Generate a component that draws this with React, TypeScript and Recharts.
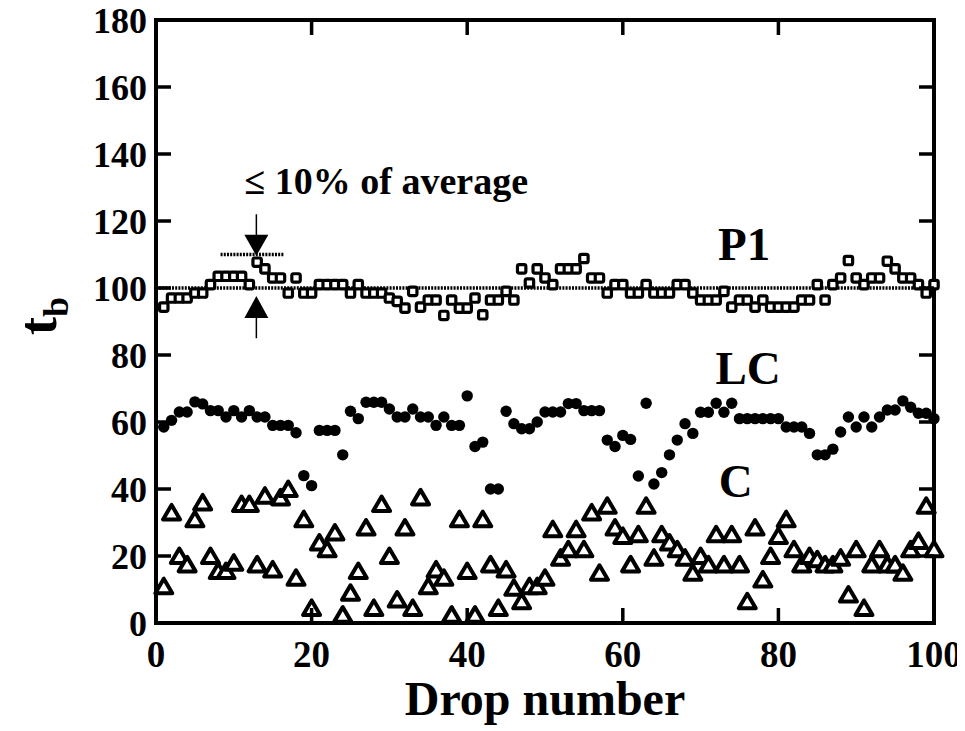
import React from 'react';
import { ScatterChart, Scatter, XAxis, YAxis, ReferenceLine, ReferenceArea, ReferenceDot } from 'recharts';

// drop index (x axis)
const drops = [
  1, 2, 3, 4, 5, 6, 7, 8, 9, 10,
  11, 12, 13, 14, 15, 16, 17, 18, 19, 20,
  21, 22, 23, 24, 25, 26, 27, 28, 29, 30,
  31, 32, 33, 34, 35, 36, 37, 38, 39, 40,
  41, 42, 43, 44, 45, 46, 47, 48, 49, 50,
  51, 52, 53, 54, 55, 56, 57, 58, 59, 60,
  61, 62, 63, 64, 65, 66, 67, 68, 69, 70,
  71, 72, 73, 74, 75, 76, 77, 78, 79, 80,
  81, 82, 83, 84, 85, 86, 87, 88, 89, 90,
  91, 92, 93, 94, 95, 96, 97, 98, 99, 100,
];

// t_b values
const p1Values = [
  94.3, 97, 97, 97, 98.5, 98.5, 101, 103.5, 103.5, 103.5,
  103.5, 101, 107.7, 105.7, 103, 103, 98.5, 103, 98.5, 98.5,
  101, 101, 101, 101, 98.5, 101, 98.5, 98.5, 98.5, 97,
  96, 94, 99, 94.3, 96.4, 96.4, 91.8, 96.4, 94, 94,
  97, 92, 96.4, 96.4, 99, 96.4, 105.7, 101.5, 105.7, 103,
  101, 105.7, 105.7, 105.7, 108.8, 103, 103, 98.5, 101, 101,
  98.5, 98.5, 101, 98.5, 98.5, 98.5, 101, 101, 98.5, 96.4,
  96.4, 96.4, 99, 94.3, 96.4, 96.4, 94.3, 96.4, 94.3, 94.3,
  94.3, 94.3, 96.4, 96.4, 101, 96.4, 101, 103, 108.2, 103,
  101, 103, 103, 108, 105.7, 103, 103, 101, 98.5, 101,
];

const lcValues = [
  58.5, 60.5, 63, 63, 66, 65.4, 63.4, 63.4, 61.5, 63.4,
  61.5, 63.4, 61.5, 61.5, 59, 59, 59, 56.8, 44, 41,
  57.5, 57.5, 57.5, 50.2, 63.2, 61, 65.9, 65.9, 65.9, 63.9,
  61.5, 61.5, 63.9, 61.5, 61.5, 59, 61.5, 59, 59, 67.8,
  52.7, 54, 40, 40, 63.2, 59.5, 58, 58, 60, 63,
  63, 63, 65.5, 65.5, 63.4, 63.4, 63.4, 54.6, 52.7, 56,
  54.8, 43.9, 65.6, 41.5, 44.9, 50.2, 54.6, 59.5, 56.6, 62.9,
  62.9, 65.6, 62.9, 65.6, 61, 61, 61, 61, 61, 61,
  58.5, 58.5, 58.5, 56.6, 50.2, 50.2, 51.9, 57, 61.5, 58.5,
  61.5, 58.5, 61.5, 63.6, 63.6, 66.3, 64.4, 62.6, 62.6, 61,
];

const cValues = [
  11, 33, 20, 17.5, 31, 36, 20, 15.5, 15.5, 18,
  35.5, 35.5, 17.5, 38, 16, 37.5, 40, 13.5, 31, 4.5,
  24, 22, 27, 2.5, 9, 15.5, 28.5, 4.5, 35.5, 20,
  7, 28.5, 4.5, 37.5, 11, 16, 13.5, 2.5, 31, 15.5,
  2.5, 31, 17.5, 4.5, 16, 10.5, 6.5, 11, 11, 13.5,
  28, 19.5, 22, 28, 22, 33, 15, 35, 28.5, 26,
  17.5, 26.5, 35, 19.5, 26.5, 24, 22, 19.5, 15, 20,
  17.5, 26.5, 17.5, 26.5, 17.5, 6.5, 28.5, 13, 20, 26,
  31, 22, 17.5, 20, 19, 17.5, 17.5, 19.5, 8.5, 22,
  4.5, 17.5, 22, 17.5, 17.5, 15, 22, 24.5, 35, 22,
];

const xTicks = [0, 20, 40, 60, 80, 100];
const yTicks = [0, 20, 40, 60, 80, 100, 120, 140, 160, 180];

const FONT = '"Liberation Serif", "Times New Roman", serif';
const PLOT = { left: 156, right: 934, top: 20, bottom: 623 };
const TICK_LEN = 15;

const p1Data = drops.map((x, i) => ({ x, y: p1Values[i] }));
const lcData = drops.map((x, i) => ({ x, y: lcValues[i] }));
const cData = drops.map((x, i) => ({ x, y: cValues[i] }));

const SquareMarker = (props: any) => {
  const { cx, cy } = props;
  if (cx == null || cy == null) return null;
  return <rect x={cx - 4.2} y={cy - 4.2} width={8.4} height={8.4} rx={1.8} fill="#fff" stroke="#000" strokeWidth={3.2} />;
};

const BlobMarker = (props: any) => {
  const { cx, cy } = props;
  if (cx == null || cy == null) return null;
  return <circle cx={cx} cy={cy} r={5.7} fill="#000" />;
};

const TriangleMarker = (props: any) => {
  const { cx, cy } = props;
  if (cx == null || cy == null) return null;
  const pts = `${cx},${cy - 7.5} ${cx - 8.5},${cy + 7} ${cx + 8.5},${cy + 7}`;
  return <polygon points={pts} fill="#fff" stroke="#000" strokeWidth={4} strokeLinejoin="round" />;
};

const YTick = (props: any) => {
  const { y, payload } = props;
  const v = payload.value;
  const inner = v !== 0 && v !== 180;
  return (
    <g>
      <text x={PLOT.left - 9} y={y + 12.5} textAnchor="end" fontFamily={FONT} fontWeight="bold" fontSize={36} fill="#000">
        {v}
      </text>
      {inner && <line x1={PLOT.left} x2={PLOT.left + TICK_LEN} y1={y} y2={y} stroke="#000" strokeWidth={3.5} />}
      {inner && <line x1={PLOT.right - TICK_LEN} x2={PLOT.right} y1={y} y2={y} stroke="#000" strokeWidth={3.5} />}
    </g>
  );
};

const XTick = (props: any) => {
  const { x, payload } = props;
  const v = payload.value;
  const inner = v !== 0 && v !== 100;
  return (
    <g>
      <text x={x} y={PLOT.bottom + 44} textAnchor="middle" fontFamily={FONT} fontWeight="bold" fontSize={37} fill="#000">
        {v}
      </text>
      {inner && <line x1={x} x2={x} y1={PLOT.bottom} y2={PLOT.bottom - TICK_LEN} stroke="#000" strokeWidth={3.5} />}
      {inner && <line x1={x} x2={x} y1={PLOT.top} y2={PLOT.top + TICK_LEN} stroke="#000" strokeWidth={3.5} />}
    </g>
  );
};

const textShape = (text: string, size: number, weight: string) => (props: any) => {
  const { cx, cy } = props;
  return (
    <text x={cx} y={cy} textAnchor="middle" fontFamily={FONT} fontWeight={weight} fontSize={size} fill="#000">
      {text}
    </text>
  );
};

const downHead = (props: any) => {
  const { cx, cy } = props;
  return <polygon points={`${cx - 12},${cy - 21} ${cx + 12},${cy - 21} ${cx},${cy}`} fill="#000" />;
};

const upHead = (props: any) => {
  const { cx, cy } = props;
  return <polygon points={`${cx - 12},${cy + 22} ${cx + 12},${cy + 22} ${cx},${cy}`} fill="#000" />;
};

const App: React.FC = () => {
  return (
    <div style={{ margin: '-8px 0 0 -8px', width: 965, height: 731 }}>
      <ScatterChart
        width={965}
        height={731}
        margin={{ top: 20, right: 31, bottom: 8, left: 8 }}
        style={{ fontFamily: FONT, background: '#fff' }}
      >
        <XAxis
          type="number"
          dataKey="x"
          domain={[0, 100]}
          ticks={xTicks}
          height={100}
          axisLine={false}
          tickLine={false}
          tick={<XTick />}
          interval={0}
        />
        <YAxis
          type="number"
          dataKey="y"
          domain={[0, 180]}
          ticks={yTicks}
          width={148}
          axisLine={false}
          tickLine={false}
          tick={<YTick />}
          interval={0}
        />
        <ReferenceLine y={100} stroke="#000" strokeWidth={3.5} strokeDasharray="2 1.2" />
        <ReferenceLine segment={[{ x: 8.3, y: 110 }, { x: 16.4, y: 110 }]} stroke="#000" strokeWidth={3.5} strokeDasharray="2 1.2" />
        <ReferenceLine segment={[{ x: 12.9, y: 122 }, { x: 12.9, y: 114 }]} stroke="#000" strokeWidth={1.5} />
        <ReferenceLine segment={[{ x: 12.9, y: 85 }, { x: 12.9, y: 92 }]} stroke="#000" strokeWidth={1.5} />
        <ReferenceDot x={12.9} y={109.6} shape={downHead} ifOverflow="visible" />
        <ReferenceDot x={12.9} y={97.6} shape={upHead} ifOverflow="visible" />

        <Scatter data={p1Data} shape={SquareMarker} isAnimationActive={false} />
        <Scatter data={lcData} shape={BlobMarker} isAnimationActive={false} />
        <Scatter data={cData} shape={TriangleMarker} isAnimationActive={false} />

        <ReferenceDot x={29.6} y={128} shape={textShape('\u2264 10% of average', 38, 'bold')} ifOverflow="visible" />
        <ReferenceDot x={75.6} y={108.5} shape={textShape('P1', 47, 'bold')} ifOverflow="visible" />
        <ReferenceDot x={76.1} y={71.2} shape={textShape('LC', 47, 'bold')} ifOverflow="visible" />
        <ReferenceDot x={74.5} y={37.5} shape={textShape('C', 47, 'bold')} ifOverflow="visible" />

        <ReferenceArea x1={0} x2={100} y1={0} y2={180} fill="none" stroke="#000" strokeWidth={4} ifOverflow="visible" />

        <text x={545} y={715} textAnchor="middle" fontFamily={FONT} fontWeight="bold" fontSize={48} fill="#000">
          Drop number
        </text>
        <text transform="translate(56,316) rotate(-90)" textAnchor="middle" fontFamily={FONT} fontWeight="bold" fontSize={54} fill="#000">
          t<tspan fontSize={36} dy={12}>b</tspan>
        </text>
      </ScatterChart>
    </div>
  );
};

export default App;
